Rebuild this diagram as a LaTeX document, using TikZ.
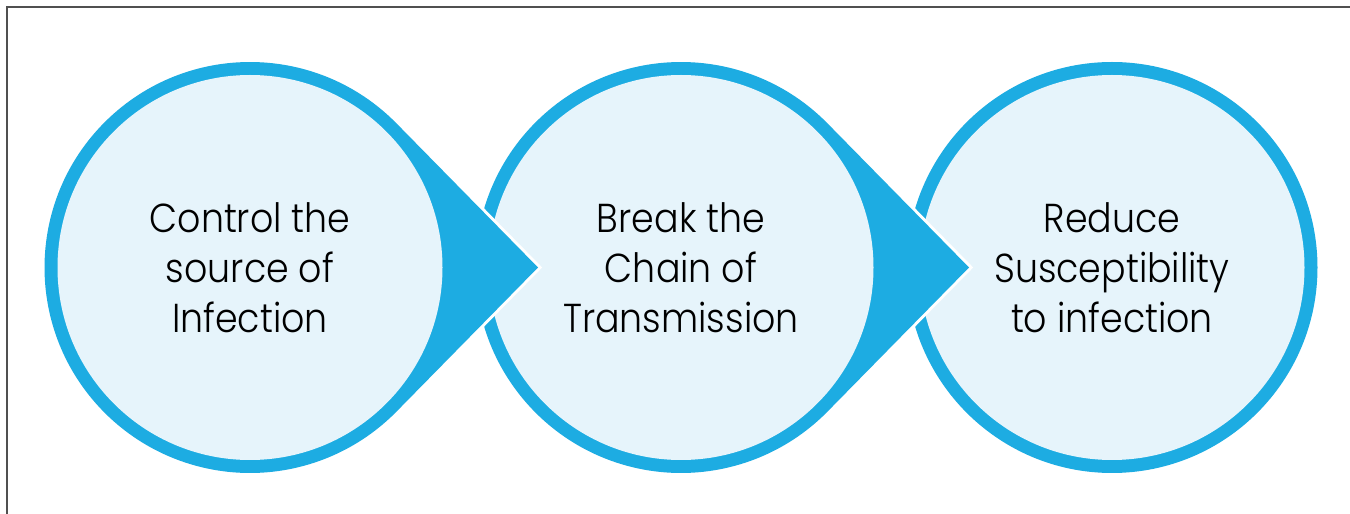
\documentclass[tikz,border=0pt]{standalone}
\usepackage{fontspec}
\setmainfont{Poppins Light}[FakeStretch=0.9]
\usetikzlibrary{calc}
\definecolor{ringblue}{RGB}{29,172,226}
\definecolor{paleblue}{RGB}{230,244,251}
\definecolor{framegray}{RGB}{80,80,80}

\begin{document}
\begin{tikzpicture}[x=0.02cm, y=0.02cm,
  ring/.style={fill=ringblue, preaction={draw=white, line width=0.12cm}},
  disc/.style={fill=paleblue},
  circletext/.style={align=center, inner sep=0pt, text=black,
    font=\fontsize{23}{28.45}\selectfont}]

\useasboundingbox (0,0) rectangle (1350,514);

% frame
\draw[framegray, line width=0.04cm] (1350,507) -- (7,507) -- (7,0);

\coordinate (c1) at (250,246.5);
\coordinate (c2) at (681,246.5);
\coordinate (c3) at (1112,246.5);
\coordinate (tip1) at (538,246.5);
\coordinate (tip2) at (969,246.5);

% last circle
\fill[ringblue] (c3) circle[radius=205.5];
\fill[disc] (c3) circle[radius=192.5];

% middle circle with arrow
\fill[ring] (tip2) -- ($(c2)+(44.5:205.5)$) arc[start angle=44.5, end angle=315.5, radius=205.5] -- cycle;
\fill[disc] (c2) circle[radius=192.5];

% first circle with arrow
\fill[ring] (tip1) -- ($(c1)+(44.5:205.5)$) arc[start angle=44.5, end angle=315.5, radius=205.5] -- cycle;
\fill[disc] (c1) circle[radius=192.5];

\node[circletext] (control) at (c1) {Control the\\source of\\Infection};
\node[circletext] (chain) at (c2) {Break the\\Chain of\\Transmission};
\node[circletext] (reduce) at (c3) {Reduce\\Susceptibility\\to infection};

\end{tikzpicture}
\end{document}
